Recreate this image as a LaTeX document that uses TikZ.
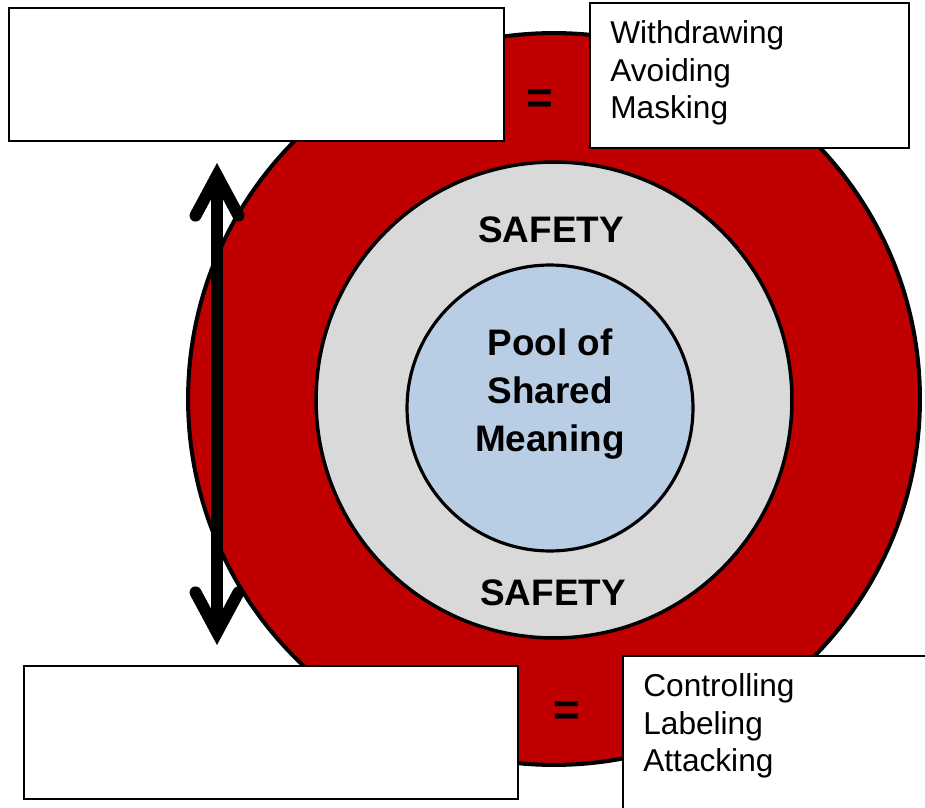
\documentclass[tikz,border=0pt]{standalone}
\usepackage{fontspec}
\setmainfont{Liberation Sans}
\usetikzlibrary{shapes.geometric, arrows.meta, positioning}
\definecolor{ringRed}{RGB}{192, 0, 0}
\definecolor{safetyGrey}{RGB}{217, 217, 217}
\definecolor{poolBlue}{RGB}{185, 205, 229}
\tikzstyle{circleNode} = [circle, inner sep=0pt, draw=black]
\tikzstyle{frameBox} = [rectangle, anchor=north west, draw=black, fill=white, line width=1.1pt]
\tikzstyle{listText} = [align=left, inner sep=0pt, font=\fontsize{18}{21.5}\selectfont]
\tikzstyle{boldText} = [align=center, inner sep=0pt, font=\bfseries\fontsize{21}{27.5}\selectfont]
\tikzstyle{equalSign} = [inner sep=0pt, font=\bfseries\fontsize{26}{30}\selectfont]

\begin{document}
\begin{tikzpicture}[x=0.02cm, y=-0.02cm]
				\useasboundingbox (0,0) rectangle (925,807);
				% rings
				\node (danger) [circleNode, fill=ringRed, line width=2.3pt, minimum size=14.64cm] at (554,399) {};
				\node (safety) [circleNode, fill=safetyGrey, line width=2pt, minimum size=9.52cm] at (554,400) {};
				\node (pool) [circleNode, fill=poolBlue, line width=1.8pt, minimum size=5.72cm] at (550,408) {};
				
				\node (poolText) [boldText] at (550,394) {Pool of\\Shared\\Meaning};
				\node (safetyTop) [boldText] at (551,230) {SAFETY};
				\node (safetyBottom) [boldText] at (553,593) {SAFETY};
				\node (eqTop) [equalSign] at (540,102) {=};
				\node (eqBottom) [equalSign] at (567,714) {=};
				
				% boxes
				\node (blankTop) [frameBox, minimum width=9.9cm, minimum height=2.66cm] at (8,7) {};
				\node (silence) [frameBox, minimum width=6.38cm, minimum height=2.9cm] at (589,2) {};
				\node (blankBottom) [frameBox, minimum width=9.88cm, minimum height=2.66cm] at (23,665) {};
				\node (violence) [frameBox, minimum width=6.3cm, minimum height=3.3cm] at (622,655) {};
				\node (silenceList) [listText, below right=0.36cm and 0.42cm of silence.north west] {Withdrawing\\Avoiding\\Masking};
				\node (violenceList) [listText, below right=0.36cm and 0.42cm of violence.north west] {Controlling\\Labeling\\Attacking};
				
				% arrow
				\coordinate (arrowTop) at (217,163);
				\coordinate (arrowBottom) at (217,645);
				\draw[line width=6.8pt, {Straight Barb[length=0.8cm, width=0.86cm, line cap=round]}-{Straight Barb[length=0.8cm, width=0.86cm, line cap=round]}] (arrowTop) -- (arrowBottom);
			\end{tikzpicture}
\end{document}
